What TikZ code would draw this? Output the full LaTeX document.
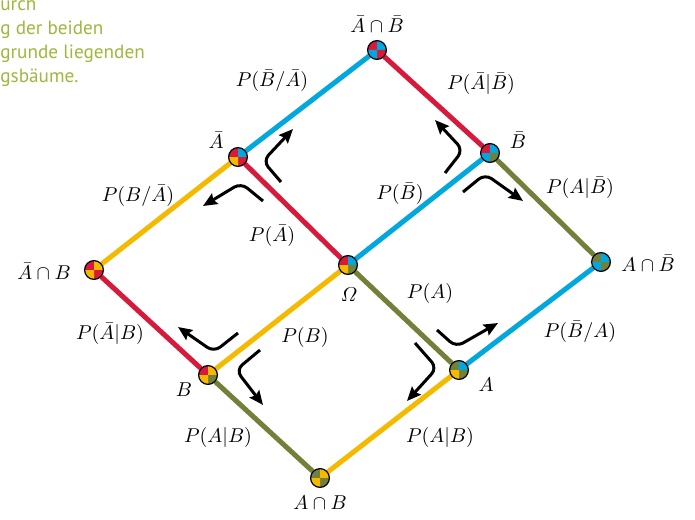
\documentclass[tikz,border=0pt]{standalone}
\usepackage{amsmath}
\usepackage{fontspec}
\newfontfamily\notefont{PT Sans}
\usetikzlibrary{arrows.meta}

\definecolor{pathred}{RGB}{215,25,60}
\definecolor{pathblue}{RGB}{0,168,222}
\definecolor{pathyellow}{RGB}{245,186,0}
\definecolor{patholive}{RGB}{115,128,58}
\definecolor{notegreen}{RGB}{160,182,62}

% quartered marker: node, top left, top right, bottom left, bottom right
\newcommand{\quadpie}[5]{%
  \fill[#2] (#1.center) -- ++(-4.7pt,0) arc[start angle=180, end angle=90, radius=4.7pt] -- cycle;
  \fill[#3] (#1.center) -- ++(0,4.7pt) arc[start angle=90, end angle=0, radius=4.7pt] -- cycle;
  \fill[#5] (#1.center) -- ++(4.7pt,0) arc[start angle=0, end angle=-90, radius=4.7pt] -- cycle;
  \fill[#4] (#1.center) -- ++(0,-4.7pt) arc[start angle=-90, end angle=-180, radius=4.7pt] -- cycle;
  \draw[line width=0.6pt] (#1.center) circle[radius=4.7pt];
}

\begin{document}
\begin{tikzpicture}[x=0.5pt, y=-0.5pt,
    pienode/.style={circle, minimum size=9.4pt, inner sep=0pt},
    branch/.style={line width=2.5pt},
    turn/.style={line width=1.5pt, rounded corners=4pt, -{Stealth[length=7pt, width=6pt, inset=1pt]}},
    note/.style={anchor=base west, inner sep=0pt, text=notegreen, font=\notefont\fontsize{9.6}{11}\selectfont}]
  \useasboundingbox (0,0) rectangle (695,519);

  % caption, cut off on the left
  \foreach \txt [count=\i] in {urch, g der beiden, grunde liegenden, gsbäume.}
    \node[note] (note\i) at (0,{11+24*(\i-1)}) {\txt};

  % markers
  \node[pienode] (AbBb) at (377,50) {};
  \node[pienode] (Ab)   at (238,157) {};
  \node[pienode] (Bb)   at (490,153) {};
  \node[pienode] (AbB)  at (94,270) {};
  \node[pienode] (Om)   at (348,265) {};
  \node[pienode] (ABb)  at (601,262) {};
  \node[pienode] (B)    at (208,375) {};
  \node[pienode] (A)    at (459,370) {};
  \node[pienode] (AB)   at (320,478) {};

  % branches
  \draw[branch, pathblue]   (Ab) -- (AbBb);
  \draw[branch, pathred]    (AbBb) -- (Bb);
  \draw[branch, pathyellow] (Ab) -- (AbB);
  \draw[branch, pathred]    (Ab) -- (Om);
  \draw[branch, pathblue]   (Om) -- (Bb);
  \draw[branch, patholive]  (Bb) -- (ABb);
  \draw[branch, pathred]    (AbB) -- (B);
  \draw[branch, pathyellow] (Om) -- (B);
  \draw[branch, patholive]  (Om) -- (A);
  \draw[branch, pathblue]   (ABb) -- (A);
  \draw[branch, patholive]  (B) -- (AB);
  \draw[branch, pathyellow] (A) -- (AB);

  \quadpie{AbBb}{pathred}{pathblue}{pathblue}{pathred}
  \quadpie{Ab}{pathred}{pathblue}{pathyellow}{pathred}
  \quadpie{Bb}{pathred}{pathblue}{pathblue}{patholive}
  \quadpie{AbB}{pathred}{pathyellow}{pathyellow}{pathred}
  \quadpie{Om}{pathred}{pathblue}{pathyellow}{patholive}
  \quadpie{ABb}{patholive}{pathblue}{pathblue}{patholive}
  \quadpie{B}{pathred}{pathyellow}{pathyellow}{patholive}
  \quadpie{A}{patholive}{pathblue}{pathyellow}{patholive}
  \quadpie{AB}{patholive}{pathyellow}{pathyellow}{patholive}

  % turning arrows
  \draw[turn] (281,182) -- (263,161) -- (293,129);
  \draw[turn] (263,201) -- (241,183) -- (203,206);
  \draw[turn] (445,173) -- (463,150) -- (435,120);
  \draw[turn] (463,192) -- (485,174) -- (523,201);
  \draw[turn] (238,333) -- (214,352) -- (178,327);
  \draw[turn] (260,350) -- (236,370) -- (263,405);
  \draw[turn] (437,330) -- (456,347) -- (498,323);
  \draw[turn] (415,343) -- (437,368) -- (407,401);

  % event labels
  \node (lAbBb) at (377,24)  {$\bar A\cap\bar B$};
  \node (lAb)   at (216,140) {$\bar A$};
  \node (lBb)   at (518,140) {$\bar B$};
  \node (lAbB)  at (44,271)  {$\bar A\cap B$};
  \node (lOm)   at (349,295) {$\varOmega$};
  \node (lABb)  at (648,263) {$A\cap\bar B$};
  \node (lB)    at (184,390) {$B$};
  \node (lA)    at (486,385) {$A$};
  \node (lAB)   at (320,503) {$A\cap B$};

  % probability labels
  \node (pBbAb) at (272,81)  {$P(\bar B/\bar A)$};
  \node (pAbBb) at (481,84)  {$P(\bar A|\bar B)$};
  \node (pBAb)  at (138,196) {$P(B/\bar A)$};
  \node (pBb)   at (400,194) {$P(\bar B)$};
  \node (pABb)  at (580,188) {$P(A|\bar B)$};
  \node (pAb)   at (272,236) {$P(\bar A)$};
  \node (pA)    at (430,293) {$P(A)$};
  \node (pAbB)  at (110,334) {$P(\bar A|B)$};
  \node (pB)    at (305,337) {$P(B)$};
  \node (pBbA)  at (580,332) {$P(\bar B/A)$};
  \node (pAB)   at (218,437) {$P(A|B)$};
  \node (pBA)   at (440,437) {$P(A|B)$};
\end{tikzpicture}
\end{document}
